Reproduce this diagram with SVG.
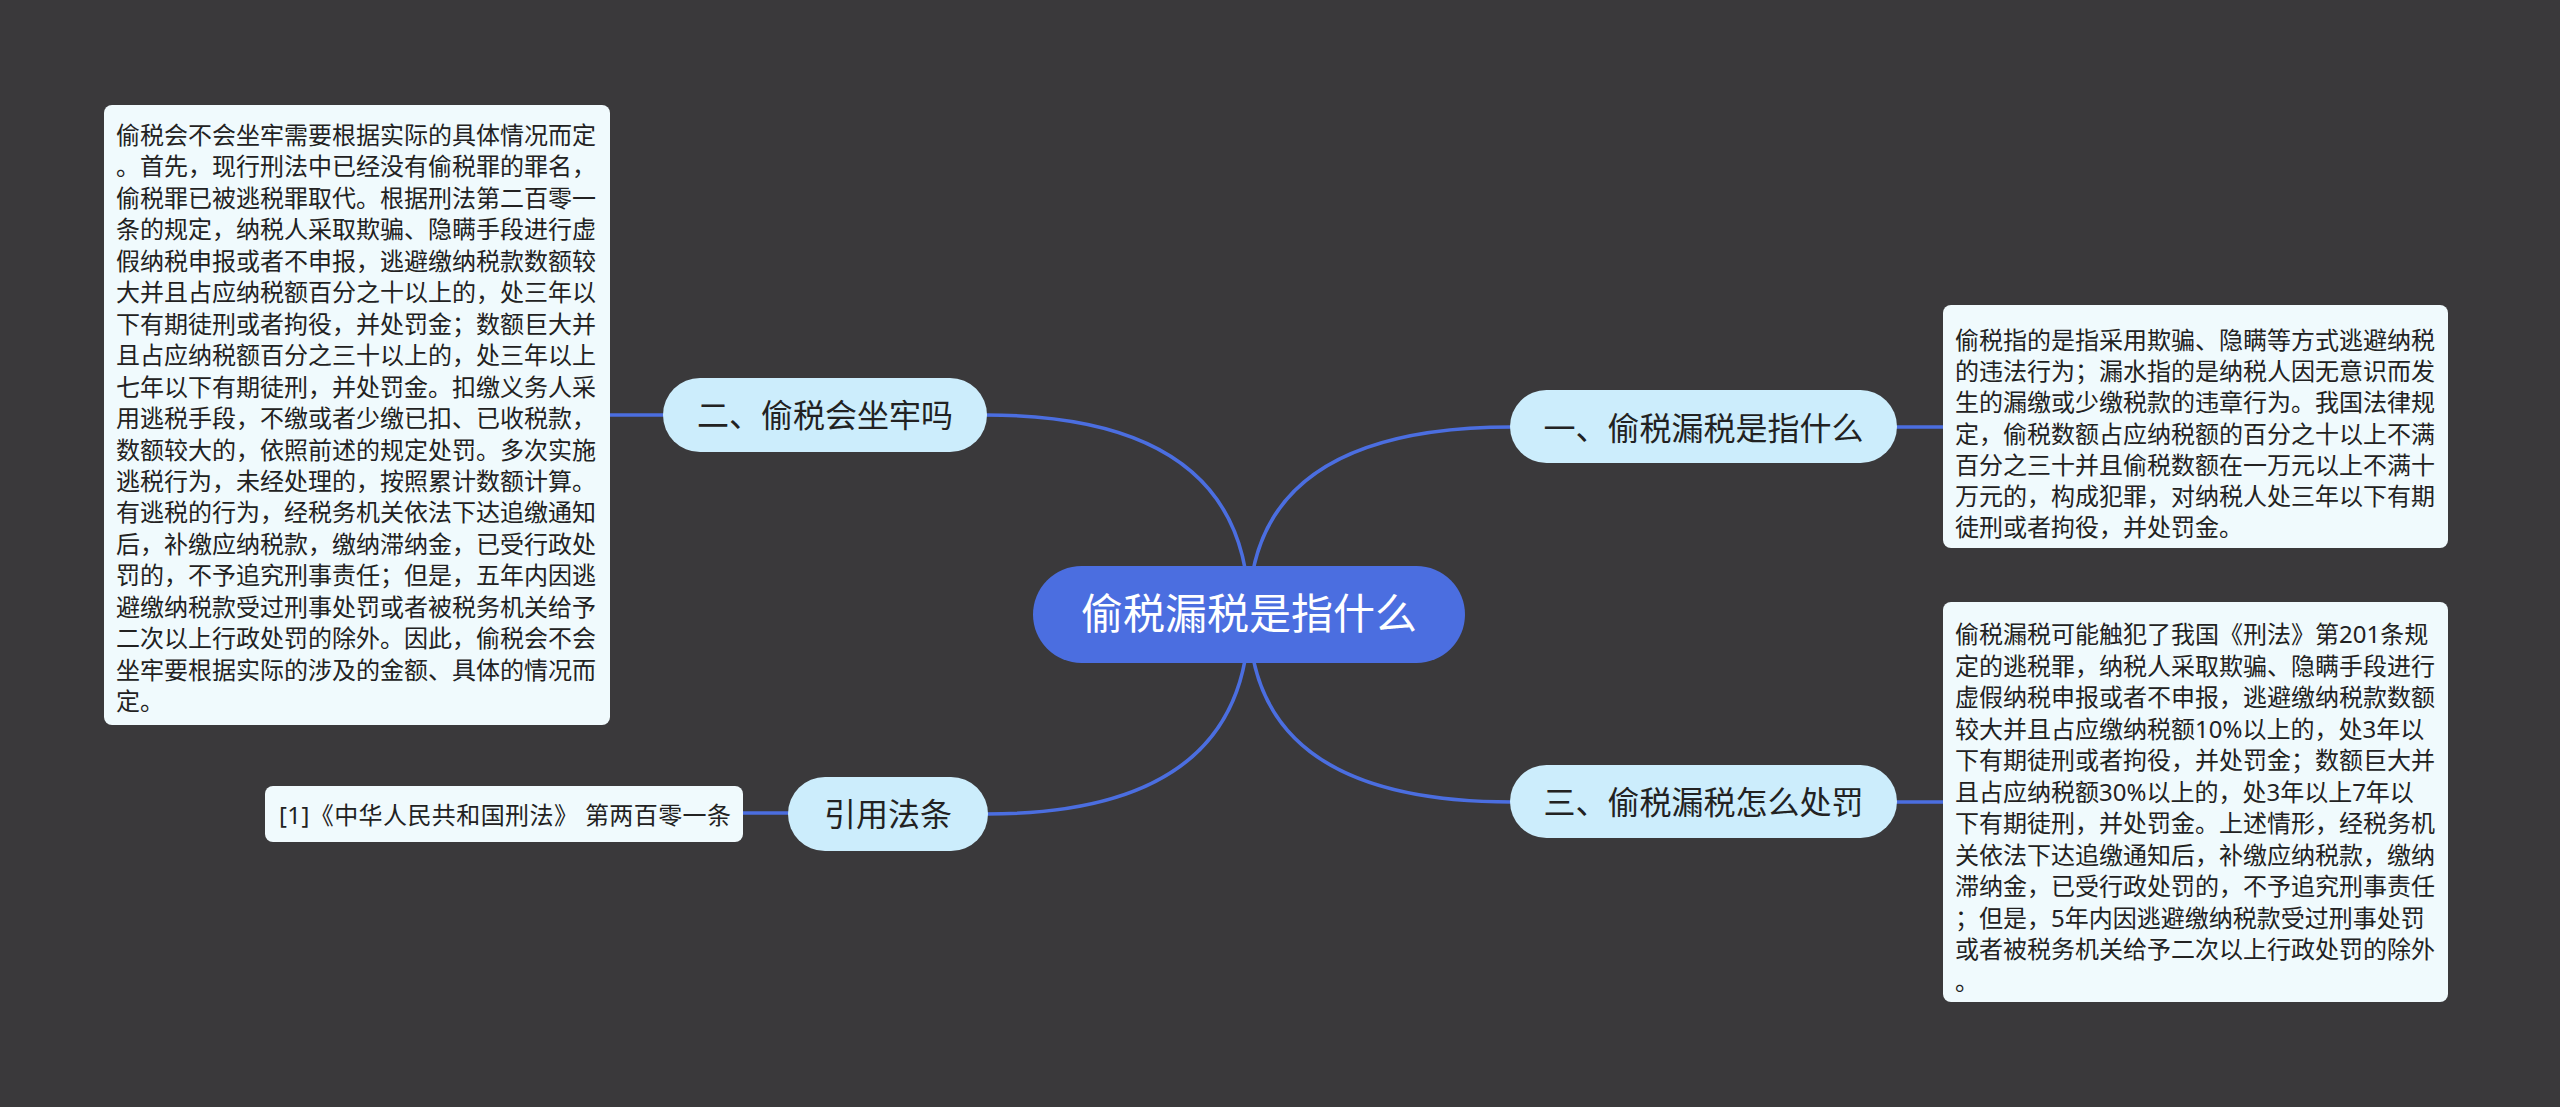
<svg xmlns="http://www.w3.org/2000/svg" width="2560" height="1107" viewBox="0 0 2560 1107">
<style>
.bg{fill:#3a393b}
.edge{fill:none;stroke:#4b6ee0;stroke-width:3.5}
.root{fill:#4b6ee0}
.branch{fill:#ccedfc}
.box{fill:#f0fafd}
.t{font-family:"Noto Sans","Noto Sans CJK SC",sans-serif}
.rt{font-size:42px;fill:#ffffff;text-anchor:middle}
.bt{font-size:32px;fill:#222222;text-anchor:middle}
.xt{font-size:24px;fill:#222222}
</style>
<rect class="bg" x="0" y="0" width="2560" height="1107"/>
<g id="connectors">
<path class="edge" d="M1249,614 Q1249,427 1512,427"/>
<path class="edge" d="M1249,614 Q1249,802 1512,802"/>
<path class="edge" d="M1249,614 Q1249,415 985,415"/>
<path class="edge" d="M1249,614 Q1249,814 986,814"/>
<path class="edge" d="M1895,427 L1945,427"/>
<path class="edge" d="M1895,802 L1945,802"/>
<path class="edge" d="M608,415 L665,415"/>
<path class="edge" d="M741,813 L790,813"/>
</g>
<g id="root">
<rect class="root" x="1033" y="566" width="432" height="97" rx="48.5"/>
<text class="t rt" x="1249" y="629">偷税漏税是指什么</text>
</g>
<g id="n1">
<rect class="branch" x="1510" y="390" width="387" height="73" rx="36.5"/>
<text class="t bt" x="1703.5" y="439.5">一、偷税漏税是指什么</text>
</g>
<g id="n1-detail">
<rect class="box" x="1943" y="305" width="505" height="243" rx="8"/>
<text class="t xt" x="1955" y="349">
<tspan x="1955" dy="0">偷税指的是指采用欺骗、隐瞒等方式逃避纳税</tspan>
<tspan x="1955" dy="31.2">的违法行为；漏水指的是纳税人因无意识而发</tspan>
<tspan x="1955" dy="31.2">生的漏缴或少缴税款的违章行为。我国法律规</tspan>
<tspan x="1955" dy="31.2">定，偷税数额占应纳税额的百分之十以上不满</tspan>
<tspan x="1955" dy="31.2">百分之三十并且偷税数额在一万元以上不满十</tspan>
<tspan x="1955" dy="31.2">万元的，构成犯罪，对纳税人处三年以下有期</tspan>
<tspan x="1955" dy="31.2">徒刑或者拘役，并处罚金。</tspan>
</text>
</g>
<g id="n3">
<rect class="branch" x="1510" y="765" width="387" height="73" rx="36.5"/>
<text class="t bt" x="1703.5" y="814">三、偷税漏税怎么处罚</text>
</g>
<g id="n3-detail">
<rect class="box" x="1943" y="602" width="505" height="400" rx="8"/>
<text class="t xt" x="1955" y="643">
<tspan x="1955" dy="0">偷税漏税可能触犯了我国《刑法》第201条规</tspan>
<tspan x="1955" dy="31.5">定的逃税罪，纳税人采取欺骗、隐瞒手段进行</tspan>
<tspan x="1955" dy="31.5">虚假纳税申报或者不申报，逃避缴纳税款数额</tspan>
<tspan x="1955" dy="31.5">较大并且占应缴纳税额10%以上的，处3年以</tspan>
<tspan x="1955" dy="31.5">下有期徒刑或者拘役，并处罚金；数额巨大并</tspan>
<tspan x="1955" dy="31.5">且占应纳税额30%以上的，处3年以上7年以</tspan>
<tspan x="1955" dy="31.5">下有期徒刑，并处罚金。上述情形，经税务机</tspan>
<tspan x="1955" dy="31.5">关依法下达追缴通知后，补缴应纳税款，缴纳</tspan>
<tspan x="1955" dy="31.5">滞纳金，已受行政处罚的，不予追究刑事责任</tspan>
<tspan x="1955" dy="31.5">；但是，5年内因逃避缴纳税款受过刑事处罚</tspan>
<tspan x="1955" dy="31.5">或者被税务机关给予二次以上行政处罚的除外</tspan>
<tspan x="1955" dy="31.5">。</tspan>
</text>
</g>
<g id="n2">
<rect class="branch" x="663" y="378" width="324" height="74" rx="37"/>
<text class="t bt" x="825" y="427">二、偷税会坐牢吗</text>
</g>
<g id="n2-detail">
<rect class="box" x="104" y="105" width="506" height="620" rx="8"/>
<text class="t xt" x="116" y="144">
<tspan x="116" dy="0">偷税会不会坐牢需要根据实际的具体情况而定</tspan>
<tspan x="116" dy="31.45">。首先，现行刑法中已经没有偷税罪的罪名，</tspan>
<tspan x="116" dy="31.45">偷税罪已被逃税罪取代。根据刑法第二百零一</tspan>
<tspan x="116" dy="31.45">条的规定，纳税人采取欺骗、隐瞒手段进行虚</tspan>
<tspan x="116" dy="31.45">假纳税申报或者不申报，逃避缴纳税款数额较</tspan>
<tspan x="116" dy="31.45">大并且占应纳税额百分之十以上的，处三年以</tspan>
<tspan x="116" dy="31.45">下有期徒刑或者拘役，并处罚金；数额巨大并</tspan>
<tspan x="116" dy="31.45">且占应纳税额百分之三十以上的，处三年以上</tspan>
<tspan x="116" dy="31.45">七年以下有期徒刑，并处罚金。扣缴义务人采</tspan>
<tspan x="116" dy="31.45">用逃税手段，不缴或者少缴已扣、已收税款，</tspan>
<tspan x="116" dy="31.45">数额较大的，依照前述的规定处罚。多次实施</tspan>
<tspan x="116" dy="31.45">逃税行为，未经处理的，按照累计数额计算。</tspan>
<tspan x="116" dy="31.45">有逃税的行为，经税务机关依法下达追缴通知</tspan>
<tspan x="116" dy="31.45">后，补缴应纳税款，缴纳滞纳金，已受行政处</tspan>
<tspan x="116" dy="31.45">罚的，不予追究刑事责任；但是，五年内因逃</tspan>
<tspan x="116" dy="31.45">避缴纳税款受过刑事处罚或者被税务机关给予</tspan>
<tspan x="116" dy="31.45">二次以上行政处罚的除外。因此，偷税会不会</tspan>
<tspan x="116" dy="31.45">坐牢要根据实际的涉及的金额、具体的情况而</tspan>
<tspan x="116" dy="31.45">定。</tspan>
</text>
</g>
<g id="n4">
<rect class="branch" x="788" y="777" width="200" height="74" rx="37"/>
<text class="t bt" x="888" y="826">引用法条</text>
</g>
<g id="n4-detail">
<rect class="box" x="265" y="786" width="478" height="56" rx="8"/>
<text class="t xt" x="279" y="824" textLength="452" lengthAdjust="spacing">[1]《中华人民共和国刑法》 第两百零一条</text>
</g>
</svg>
